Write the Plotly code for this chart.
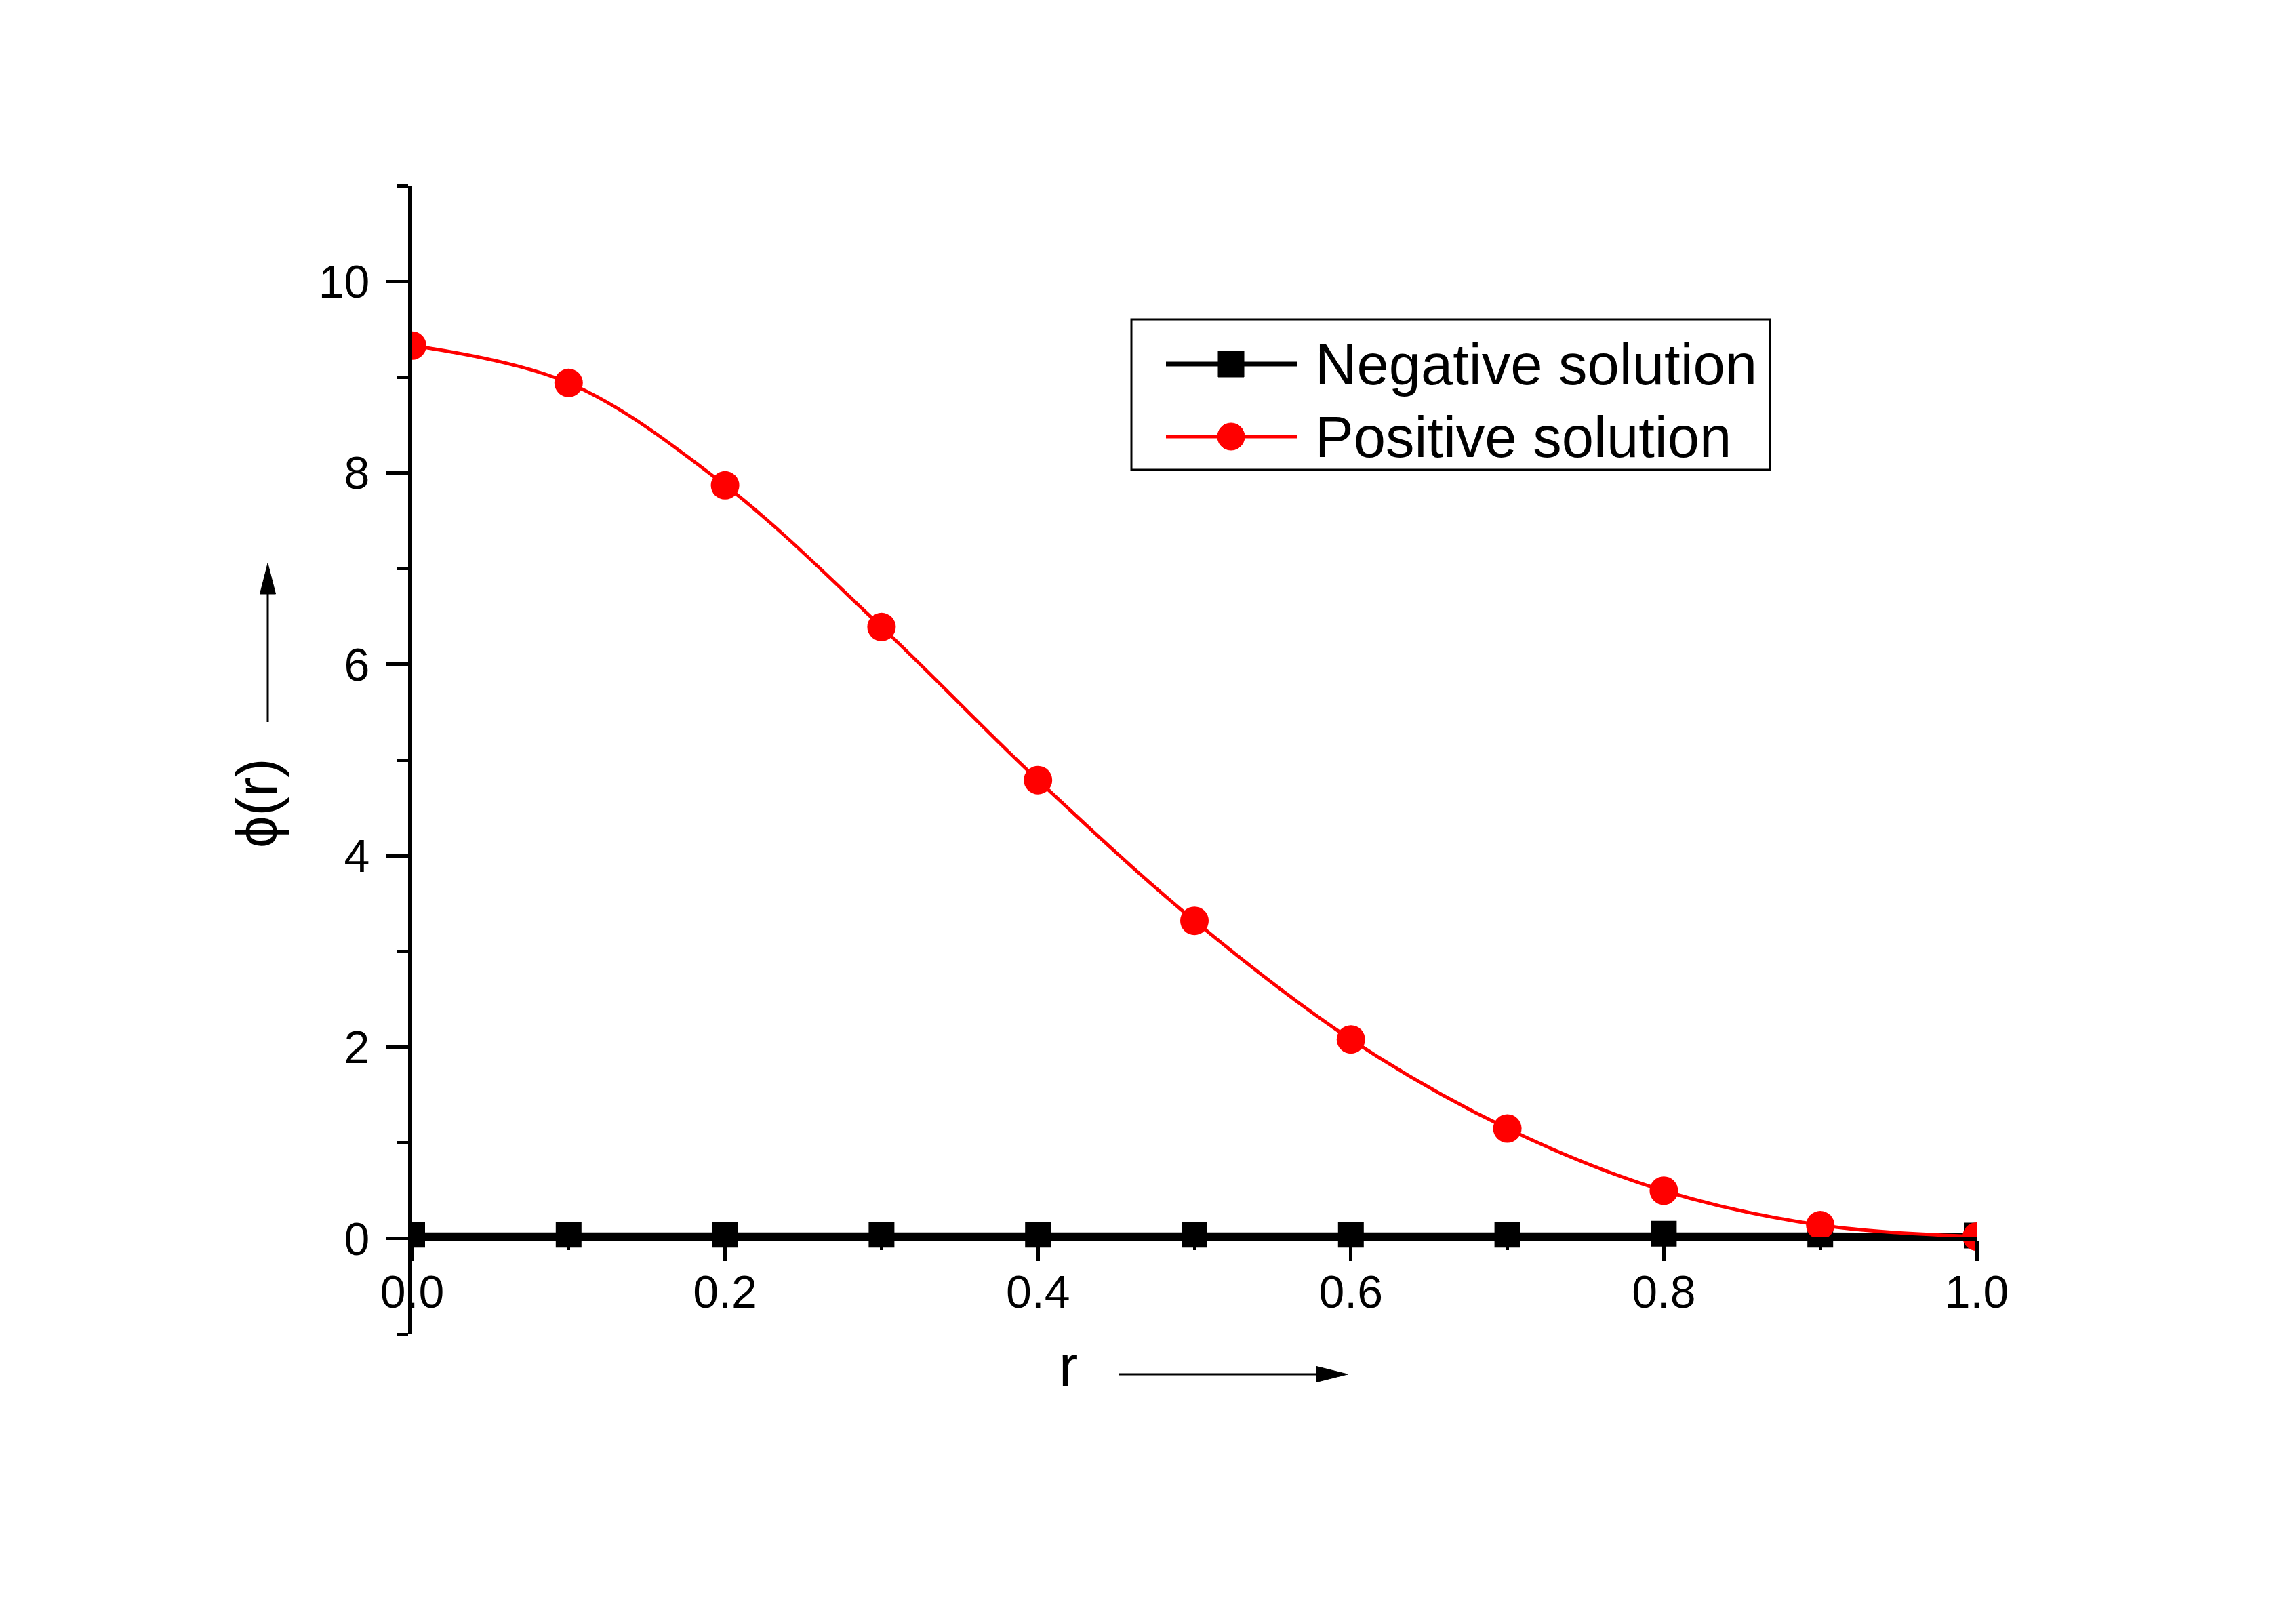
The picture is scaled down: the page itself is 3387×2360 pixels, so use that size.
import plotly.graph_objects as go

# data
r_vals = [0.0, 0.1, 0.2, 0.3, 0.4, 0.5, 0.6, 0.7, 0.8, 0.9, 1.0]
phi_negative = [0.04, 0.04, 0.04, 0.04, 0.04, 0.04, 0.04, 0.04, 0.05, 0.04, 0.03]
phi_positive = [9.33, 8.94, 7.87, 6.39, 4.79, 3.32, 2.08, 1.15, 0.50, 0.14, 0.02]

x_ticks = [0.0, 0.2, 0.4, 0.6, 0.8, 1.0]
y_ticks = [0, 2, 4, 6, 8, 10]

legend_names = ["Negative solution", "Positive solution"]

FONT = "Liberation Sans, Arial, sans-serif"
OFF = 8  # page offset of the plot div (body margin)
W, H = 3379, 2352
ML, MT = 600, 266
PW, PH = 2308, 1694
MR, MB = W - ML - PW, H - MT - PH

fig = go.Figure()

fig.add_trace(go.Scatter(
    x=r_vals, y=phi_negative,
    mode='lines+markers',
    line=dict(color='black', width=7),
    marker=dict(symbol='square', size=38, color='black'),
    name=legend_names[0],
    showlegend=False
))

fig.add_trace(go.Scatter(
    x=r_vals, y=phi_positive,
    mode='lines+markers',
    line=dict(color='#ff0000', width=5, shape='spline', smoothing=1),
    marker=dict(symbol='circle', size=42, color='#ff0000'),
    name=legend_names[1],
    showlegend=False
))

fig.update_layout(
    width=W, height=H,
    margin=dict(l=ML, r=MR, t=MT, b=MB, pad=0),
    paper_bgcolor='white',
    plot_bgcolor='white',
    font=dict(family=FONT, color='black', size=68),
    xaxis=dict(
        range=[0, 1],
        tickvals=x_ticks,
        ticktext=[f"{v:.1f}" for v in x_ticks],
        showgrid=False, zeroline=False,
        showline=True, linecolor='black', linewidth=6,
        ticks='outside', ticklen=30, tickwidth=5, tickcolor='black',
        minor=dict(dtick=0.1, tick0=0, ticks='outside', ticklen=14,
                   tickwidth=5, tickcolor='black'),
        tickfont=dict(family=FONT, size=68, color='black'),
        ticklabelstandoff=-12,
        anchor='free', position=1 / 12,
    ),
    yaxis=dict(
        range=[-1, 11],
        tickvals=y_ticks,
        showgrid=False, zeroline=False,
        showline=True, linecolor='black', linewidth=6,
        ticks='outside', ticklen=33, tickwidth=5, tickcolor='black',
        minor=dict(dtick=1, tick0=0, ticks='outside', ticklen=17,
                   tickwidth=5, tickcolor='black'),
        tickfont=dict(family=FONT, size=68, color='black'),
        ticklabelstandoff=10,
    ),
)

# page pixel -> paper coordinate
def px_x(p):
    return (p - OFF - ML) / PW

def px_y(p):
    return (MT + PH - (p - OFF)) / PH

shapes = []
annotations = []

# axis titles with arrows
annotations.append(dict(
    text="r", x=px_x(1576), y=px_y(2015), xref='paper', yref='paper',
    showarrow=False, xanchor='center', yanchor='middle',
    font=dict(family=FONT, size=85, color='black')
))
shapes.append(dict(type='line', xref='paper', yref='paper',
                   x0=px_x(1650), x1=px_x(1945), y0=px_y(2027), y1=px_y(2027),
                   line=dict(color='black', width=3)))
shapes.append(dict(type='path', xref='paper', yref='paper',
                   path=f"M{px_x(1942)},{px_y(2015.5)} L{px_x(1988)},{px_y(2027)} "
                        f"L{px_x(1942)},{px_y(2038.5)} Z",
                   fillcolor='black', line=dict(color='black', width=1)))

annotations.append(dict(
    text="ϕ(r)", x=px_x(378), y=px_y(1185), xref='paper', yref='paper',
    showarrow=False, xanchor='center', yanchor='middle', textangle=-90,
    font=dict(family=FONT, size=85, color='black')
))
shapes.append(dict(type='line', xref='paper', yref='paper',
                   x0=px_x(395), x1=px_x(395), y0=px_y(1065), y1=px_y(873),
                   line=dict(color='black', width=3)))
shapes.append(dict(type='path', xref='paper', yref='paper',
                   path=f"M{px_x(383.5)},{px_y(876)} L{px_x(395)},{px_y(831)} "
                        f"L{px_x(406.5)},{px_y(876)} Z",
                   fillcolor='black', line=dict(color='black', width=1)))

# legend box drawn by hand (long sample lines as in the reference)
shapes.append(dict(type='rect', xref='paper', yref='paper',
                   x0=px_x(1669), x1=px_x(2611), y0=px_y(693), y1=px_y(471),
                   line=dict(color='black', width=3), fillcolor='white', layer='above'))
rows = [(537, 'black', 7, 'rect', 19), (644, '#ff0000', 5, 'circle', 20)]
for name, (ry, col, lw, kind, half) in zip(legend_names, rows):
    shapes.append(dict(type='line', xref='paper', yref='paper',
                       x0=px_x(1720), x1=px_x(1913), y0=px_y(ry), y1=px_y(ry),
                       line=dict(color=col, width=lw), layer='above'))
    shapes.append(dict(type=kind, xref='paper', yref='paper',
                       xsizemode='pixel', ysizemode='pixel',
                       xanchor=px_x(1816), yanchor=px_y(ry),
                       x0=-half, x1=half, y0=-half, y1=half,
                       fillcolor=col, line=dict(color=col, width=1), layer='above'))
    annotations.append(dict(
        text=name, x=px_x(1938), y=px_y(ry), xref='paper', yref='paper',
        showarrow=False, xanchor='left', yanchor='middle',
        font=dict(family=FONT, size=85, color='black')
    ))

fig.update_layout(shapes=shapes, annotations=annotations)

fig.write_html("out.html")
